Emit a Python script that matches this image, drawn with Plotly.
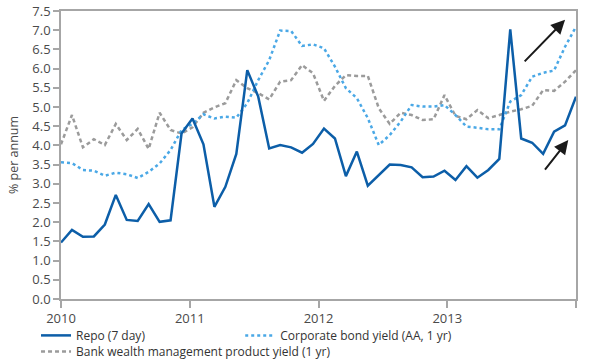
import numpy as np
import plotly.graph_objects as go

# Monthly data, Jan 2010 - Dec 2013 (48 observations)
repo = [1.47, 1.80, 1.62, 1.63, 1.94, 2.71, 2.06, 2.03, 2.47, 2.01, 2.05, 4.31,
        4.70, 4.03, 2.40, 2.92, 3.78, 5.96, 5.27, 3.92, 4.01, 3.95, 3.81, 4.04,
        4.44, 4.18, 3.20, 3.84, 2.95, 3.23, 3.50, 3.49, 3.43, 3.17, 3.19, 3.34,
        3.10, 3.46, 3.16, 3.36, 3.65, 7.02, 4.18, 4.07, 3.78, 4.36, 4.52, 5.27]

corp_bond = [3.56, 3.54, 3.36, 3.34, 3.21, 3.29, 3.25, 3.15, 3.31, 3.53, 3.88, 4.40,
             4.56, 4.81, 4.70, 4.75, 4.72, 5.10, 5.70, 6.22, 6.99, 6.98, 6.59, 6.63,
             6.53, 6.05, 5.49, 5.23, 4.71, 4.01, 4.27, 4.62, 5.05, 5.01, 5.01, 5.05,
             4.79, 4.49, 4.46, 4.42, 4.42, 5.14, 5.31, 5.79, 5.89, 5.95, 6.57, 7.09]

bank_wmp = [4.03, 4.79, 3.95, 4.16, 4.01, 4.56, 4.14, 4.43, 3.91, 4.85, 4.40, 4.31,
            4.47, 4.85, 4.99, 5.10, 5.70, 5.49, 5.36, 5.20, 5.66, 5.70, 6.09, 5.88,
            5.16, 5.55, 5.83, 5.81, 5.81, 4.97, 4.56, 4.85, 4.79, 4.66, 4.68, 5.31,
            4.77, 4.68, 4.92, 4.71, 4.79, 4.88, 4.94, 5.03, 5.44, 5.42, 5.66, 5.96]

tick_years = [2010, 2011, 2012, 2013, 2014]
tick_labels = ["2010", "2011", "2012", "2013", ""]

# observations spread evenly across the 2010-2014 axis span
x = np.linspace(2010, 2014, len(repo))

TXT = "#4a4a4a"
AX = "#a6a6a6"

fig = go.Figure()
fig.add_trace(go.Scatter(x=x, y=bank_wmp, mode="lines",
                         name="Bank wealth management product yield (1 yr)",
                         line=dict(color="#9b9b9b", width=2.5, dash="4px,3px"),
                         legend="legend3"))
fig.add_trace(go.Scatter(x=x, y=corp_bond, mode="lines",
                         name="Corporate bond yield (AA, 1 yr)",
                         line=dict(color="#4aa8e6", width=2.5, dash="3px,3px"),
                         legend="legend2"))
fig.add_trace(go.Scatter(x=x, y=repo, mode="lines", name="Repo (7 day)",
                         line=dict(color="#0c5ea8", width=2.5),
                         legend="legend"))

# trend arrows
arrows = [((2013.59, 6.15), (2013.915, 7.27)),
          ((2013.75, 3.33), (2013.94, 4.14))]
for (tx, ty), (hx, hy) in arrows:
    fig.add_annotation(x=hx, y=hy, ax=tx, ay=ty, xref="x", yref="y",
                       axref="x", ayref="y", text="", showarrow=True,
                       arrowhead=2, arrowsize=1.4, arrowwidth=2,
                       arrowcolor="#1a1a1a")

leg_common = dict(orientation="h", xanchor="left", yanchor="top",
                  font=dict(size=12, color="#333333"),
                  bgcolor="rgba(0,0,0,0)")

fig.update_layout(
    width=600, height=360,
    margin=dict(l=61, r=24, t=11, b=61, autoexpand=False),
    paper_bgcolor="white", plot_bgcolor="white",
    font=dict(family="Open Sans", size=12, color=TXT),
    showlegend=True,
    legend=dict(x=-0.0485, y=-0.076, **leg_common),
    legend2=dict(x=0.348, y=-0.076, **leg_common),
    legend3=dict(x=-0.0485, y=-0.132, **leg_common),
)
fig.update_xaxes(range=[2010, 2014], tickvals=tick_years, ticktext=tick_labels,
                 showgrid=False, zeroline=False, showline=True, linecolor=AX,
                 linewidth=1.5, mirror=True, ticks="outside", ticklen=7,
                 tickcolor=AX, tickwidth=1.5, tickfont=dict(size=13, color=TXT))
fig.update_yaxes(range=[0, 7.5], dtick=0.5, tick0=0, tickformat=".1f",
                 showgrid=False, zeroline=False, showline=True, linecolor=AX,
                 linewidth=1.5, mirror=True, ticks="outside", ticklen=6,
                 tickcolor=AX, tickwidth=1.5, tickfont=dict(size=13, color=TXT),
                 title=dict(text="% per annum", font=dict(size=12.5, color=TXT),
                            standoff=11))

fig.write_html("out.html",
               config={"displayModeBar": False},
               post_script="document.body.style.margin='0';"
                           "document.body.style.overflow='hidden';")
